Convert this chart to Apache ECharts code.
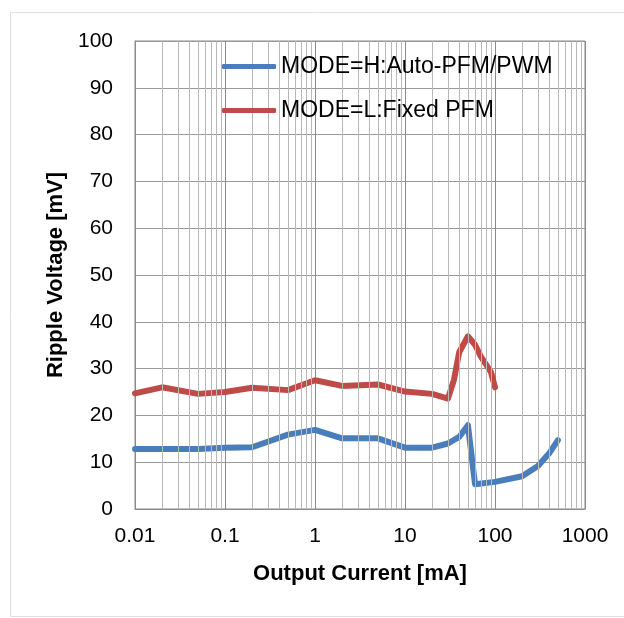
<!DOCTYPE html>
<html>
<head>
<meta charset="utf-8">
<style>
  html, body { margin: 0; padding: 0; background: #fff; }
  #chart { width: 624px; height: 618px; }
</style>
<script src="https://cdn.jsdelivr.net/npm/echarts@6/dist/echarts.min.js"></script>
</head>
<body>
<div id="chart"></div>
<script>
// Output current [mA] and ripple voltage [mV] for each mode
const currentH = [0.01, 0.02, 0.05, 0.1, 0.2, 0.5, 1, 2, 5, 10, 20, 30, 40, 50, 60, 100, 200, 300, 400, 500];
const rippleH  = [12.8, 12.8, 12.8, 13.1, 13.2, 15.9, 16.9, 15.1, 15.1, 13.1, 13.1, 14.0, 15.4, 17.9, 5.3, 5.8, 7.0, 9.2, 11.9, 14.7];

const currentL = [0.01, 0.02, 0.05, 0.1, 0.2, 0.5, 1, 2, 5, 10, 20, 30, 35, 40, 50, 60, 70, 90, 100];
const rippleL  = [24.7, 26.0, 24.6, 25.0, 25.9, 25.4, 27.5, 26.3, 26.6, 25.1, 24.6, 23.6, 27.6, 33.5, 36.9, 35.1, 32.5, 29.3, 26.0];

const seriesNames = ['MODE=H:Auto-PFM/PWM', 'MODE=L:Fixed PFM'];

// Axis tick labels
const xTickLabels = ['0.01', '0.1', '1', '10', '100', '1000'];
const yTickLabels = ['0', '10', '20', '30', '40', '50', '60', '70', '80', '90', '100'];

// Minor vertical grid lines at 2..9 within each decade
const minorSteps = [2, 3, 4, 5, 6, 7, 8, 9];
const decadeStarts = xTickLabels.slice(0, -1).map(Number);
const minorLines = [];
decadeStarts.forEach(d => minorSteps.forEach(k => minorLines.push({ xAxis: +(d * k).toPrecision(6) })));

const FONT = '"Liberation Sans", Arial, sans-serif';
const BLUE = '#4a7ebb';
const RED = '#be4b48';

const pairs = (xs, ys) => xs.map((x, i) => [x, ys[i]]);

const chart = echarts.init(document.getElementById('chart'), null, { renderer: 'canvas' });
chart.setOption({
  animation: false,
  backgroundColor: '#fff',
  textStyle: { fontFamily: FONT },
  graphic: [{
    type: 'rect',
    silent: true,
    shape: { x: 10.5, y: 12.5, width: 640, height: 604 },
    style: { fill: 'none', stroke: '#dedede', lineWidth: 1 }
  }],
  grid: {
    left: 135, right: 39, top: 41, bottom: 109,
    show: true, borderColor: '#8a8a8a', borderWidth: 1, backgroundColor: 'transparent'
  },
  legend: {
    z: 20,
    orient: 'vertical',
    left: 217, top: 50,
    itemWidth: 54, itemHeight: 5, itemGap: 21,
    icon: 'roundRect',
    data: seriesNames,
    itemStyle: { borderWidth: 0 },
    textStyle: { fontFamily: FONT, fontSize: 23, color: '#000', lineHeight: 22 }
  },
  xAxis: {
    type: 'log', logBase: 10, min: 0.01, max: 1000,
    name: 'Output Current [mA]',
    nameLocation: 'middle', nameGap: 54,
    nameTextStyle: { fontFamily: FONT, fontSize: 22, fontWeight: 'bold', color: '#000' },
    axisLine: { show: true, lineStyle: { color: '#8a8a8a', width: 1 } },
    axisTick: { show: false },
    axisLabel: {
      margin: 17, fontFamily: FONT, fontSize: 21, color: '#000',
      formatter: v => xTickLabels[Math.round(Math.log10(v)) + 2]
    },
    splitLine: { show: true, lineStyle: { color: '#8a8a8a', width: 1 } }
  },
  yAxis: {
    type: 'value', min: 0, max: 100, interval: 10,
    name: 'Ripple Voltage [mV]',
    nameLocation: 'middle', nameGap: 67,
    nameTextStyle: { fontFamily: FONT, fontSize: 22, fontWeight: 'bold', color: '#000' },
    axisLine: { show: true, lineStyle: { color: '#8a8a8a', width: 1 } },
    axisTick: { show: false },
    axisLabel: {
      margin: 22, fontFamily: FONT, fontSize: 21, color: '#000',
      formatter: v => yTickLabels[Math.round(v / 10)]
    },
    splitLine: { show: true, lineStyle: { color: '#999999', width: 1 } }
  },
  series: [
    {
      type: 'line', name: 'minor-grid', data: [], z: 1, silent: true,
      markLine: {
        silent: true, symbol: 'none', animation: false,
        label: { show: false },
        lineStyle: { color: '#b8b8b8', width: 1, type: 'solid' },
        emphasis: { disabled: true },
        data: minorLines
      }
    },
    {
      type: 'line', name: seriesNames[0], data: pairs(currentH, rippleH), z: 4,
      showSymbol: false, symbol: 'none', smooth: false, color: BLUE,
      lineStyle: { color: BLUE, width: 6, cap: 'round', join: 'round' }
    },
    {
      type: 'line', name: seriesNames[1], data: pairs(currentL, rippleL), z: 3,
      showSymbol: false, symbol: 'none', smooth: false, color: RED,
      lineStyle: { color: RED, width: 6, cap: 'round', join: 'round' }
    }
  ]
});
</script>
</body>
</html>
